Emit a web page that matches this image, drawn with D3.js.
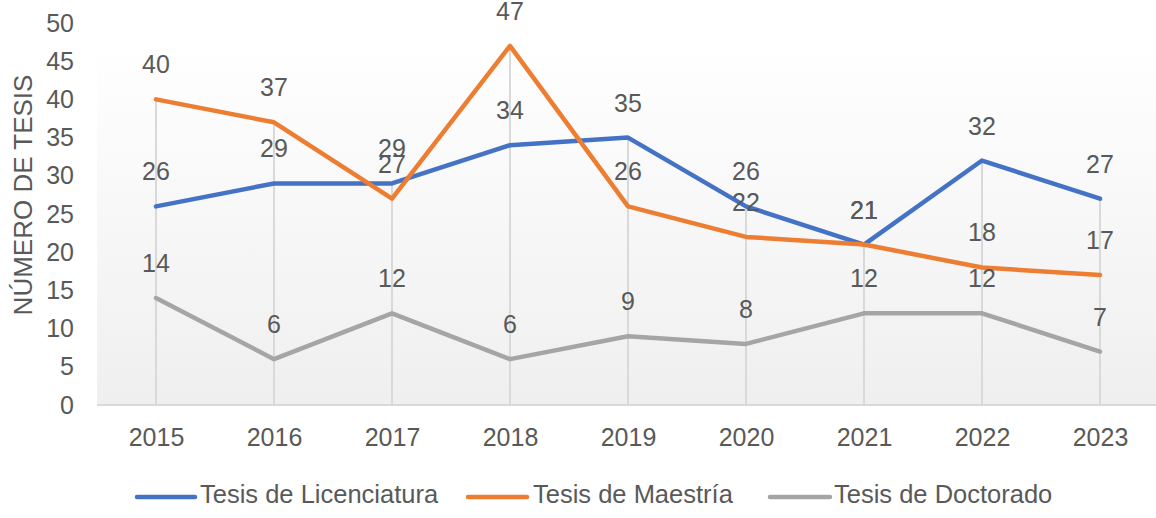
<!DOCTYPE html>
<html>
<head>
<meta charset="utf-8">
<script src="https://cdn.jsdelivr.net/npm/d3@7"></script>
<style>
  body { margin: 0; background: #fff; }
  text { font-family: "Liberation Sans", Arial, sans-serif; fill: #595959; }
</style>
</head>
<body>
<svg id="chart" width="1156" height="518"></svg>
<script>
// Data
const years = ['2015', '2016', '2017', '2018', '2019', '2020', '2021', '2022', '2023'];
const licenciatura = [26, 29, 29, 34, 35, 26, 21, 32, 27];
const maestria = [40, 37, 27, 47, 26, 22, 21, 18, 17];
const doctorado = [14, 6, 12, 6, 9, 8, 12, 12, 7];
const yTicks = [0, 5, 10, 15, 20, 25, 30, 35, 40, 45, 50];

const series = [
    { name: 'Tesis de Licenciatura', values: licenciatura, color: '#4472C4' },
    { name: 'Tesis de Maestría', values: maestria, color: '#ED7D31' },
    { name: 'Tesis de Doctorado', values: doctorado, color: '#A5A5A5' }
];

const svg = d3.select('#chart');
const plot = { left: 97, right: 1159, top: 23, bottom: 405 };
const fontSize = 25;

// Scales
const xScale = d3.scalePoint()
    .domain(years)
    .range([plot.left, plot.right])
    .padding(0.5);

const yScale = d3.scaleLinear()
    .domain([0, 50])
    .range([plot.bottom, plot.top]);

// Background gradient
const grad = svg.append('defs').append('linearGradient')
    .attr('id', 'bg')
    .attr('x1', 0).attr('y1', 0).attr('x2', 0).attr('y2', 1);
grad.append('stop').attr('offset', '0%').attr('stop-color', '#ffffff');
grad.append('stop').attr('offset', '100%').attr('stop-color', '#efefef');

svg.append('rect')
    .attr('x', plot.left)
    .attr('y', 42)
    .attr('width', plot.right - plot.left)
    .attr('height', plot.bottom - 42)
    .attr('fill', 'url(#bg)');

// Drop lines
years.forEach((yr, i) => {
    const maxV = d3.max(series, s => s.values[i]);
    svg.append('line')
        .attr('x1', xScale(yr)).attr('x2', xScale(yr))
        .attr('y1', yScale(0)).attr('y2', yScale(maxV))
        .attr('stroke', '#d9d9d9')
        .attr('stroke-width', 2);
});

// Axis line
svg.append('line')
    .attr('x1', plot.left).attr('x2', plot.right)
    .attr('y1', yScale(0)).attr('y2', yScale(0))
    .attr('stroke', '#d9d9d9')
    .attr('stroke-width', 2);

// Y axis
const yAxis = svg.append('g')
    .attr('transform', 'translate(74,0)')
    .call(d3.axisLeft(yScale).tickValues(yTicks).tickSize(0).tickPadding(0));
yAxis.select('.domain').remove();
yAxis.selectAll('text')
    .attr('font-size', fontSize)
    .attr('fill', '#595959')
    .style('font-family', '"Liberation Sans", Arial, sans-serif');

// X axis
const xAxis = svg.append('g')
    .attr('transform', `translate(0,${plot.bottom})`)
    .call(d3.axisBottom(xScale).tickSize(0).tickPadding(23));
xAxis.select('.domain').remove();
xAxis.selectAll('text')
    .attr('font-size', fontSize)
    .attr('fill', '#595959')
    .style('font-family', '"Liberation Sans", Arial, sans-serif');

// Y axis title
svg.append('text')
    .attr('transform', 'rotate(-90)')
    .attr('x', -195)
    .attr('y', 32)
    .attr('text-anchor', 'middle')
    .attr('font-size', 26)
    .text('NÚMERO DE TESIS');

// Lines
const line = d3.line()
    .x((d, i) => xScale(years[i]))
    .y(d => yScale(d));

series.forEach(s => {
    svg.append('path')
        .datum(s.values)
        .attr('d', line)
        .attr('fill', 'none')
        .attr('stroke', s.color)
        .attr('stroke-width', 4.5)
        .attr('stroke-linejoin', 'round')
        .attr('stroke-linecap', 'round');
});

// Data labels
series.forEach(s => {
    s.values.forEach((v, i) => {
        svg.append('text')
            .attr('x', xScale(years[i]))
            .attr('y', yScale(v) - 26)
            .attr('text-anchor', 'middle')
            .attr('font-size', fontSize)
            .text(v);
    });
});

// Legend
const legendItems = [
    { x1: 137, x2: 195, textX: 200 },
    { x1: 468, x2: 527, textX: 533 },
    { x1: 770, x2: 830, textX: 834 }
];
series.forEach((s, i) => {
    const li = legendItems[i];
    svg.append('line')
        .attr('x1', li.x1).attr('x2', li.x2)
        .attr('y1', 497).attr('y2', 497)
        .attr('stroke', s.color)
        .attr('stroke-width', 4.5)
        .attr('stroke-linecap', 'round');
    svg.append('text')
        .attr('x', li.textX)
        .attr('y', 503)
        .attr('font-size', 25.5)
        .text(s.name);
});
</script>
</body>
</html>
